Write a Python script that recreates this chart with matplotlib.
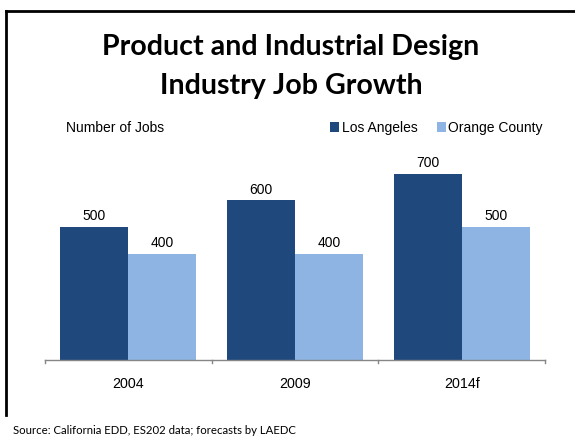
import matplotlib
matplotlib.use("Agg")
import matplotlib.pyplot as plt
from matplotlib.patches import Patch
from matplotlib.lines import Line2D
import numpy as np

years = ["2004", "2009", "2014f"]
los_angeles = [500, 600, 700]
orange_county = [400, 400, 500]
series_names = ["Los Angeles", "Orange County"]
colors = ["#1F497D", "#8DB4E2"]

W, H = 575, 438
fig = plt.figure(figsize=(W / 100, H / 100), dpi=100)

# plot area in pixel coordinates
left, right, top, bottom = 45, 545, 147, 360
ax = fig.add_axes([left / W, 1 - bottom / H, (right - left) / W, (bottom - top) / H])

x = np.arange(len(years))
bw = 0.408
for vals, off, c in [(los_angeles, -bw / 2, colors[0]), (orange_county, bw / 2, colors[1])]:
    bars = ax.bar(x + off, vals, width=bw, color=c, linewidth=0)
    for b, v in zip(bars, vals):
        ax.text(b.get_x() + b.get_width() / 2, v + 14, f"{v}", ha="center", va="bottom",
                fontsize=10, family="Liberation Sans", color="#000000")

ax.set_xlim(-0.5, len(years) - 0.5)
ax.set_ylim(0, 800)
ax.set_yticks([])
for s in ["top", "right", "left"]:
    ax.spines[s].set_visible(False)
ax.spines["bottom"].set_color("#868686")
ax.spines["bottom"].set_linewidth(1.0)
ax.set_xticks(x)
ax.set_xticklabels(years, fontsize=10.3, family="Liberation Sans")
ax.tick_params(axis="x", length=0, pad=12)
# category boundary ticks
for bx in np.arange(-0.5, len(years), 1.0):
    ax.plot([bx, bx], [0, -12], color="#868686", lw=1.0, clip_on=False)

# frame lines
fig.add_artist(Line2D([6 / W, 6 / W], [1 - 11 / H, 1 - 415 / H], color="black", lw=2))
fig.add_artist(Line2D([6 / W, 1], [1 - 11 / H, 1 - 11 / H], color="black", lw=2))

fig.text(291 / W, 1 - 47 / H, "Product and Industrial Design", ha="center", va="center",
         fontsize=20.6, fontweight="bold", family="Lato")
fig.text(291 / W, 1 - 86 / H, "Industry Job Growth", ha="center", va="center",
         fontsize=20.6, fontweight="bold", family="Lato")

fig.text(66 / W, 1 - 128 / H, "Number of Jobs", ha="left", va="center",
         fontsize=10, family="Liberation Sans")

handles = [Patch(facecolor=c, edgecolor="none") for c in colors]
fig.legend(handles, series_names, loc="center right", bbox_to_anchor=(543 / W, 1 - 128 / H),
           ncol=2, frameon=False, prop={"family": "Liberation Sans", "size": 10},
           handlelength=0.7, handleheight=0.7, handletextpad=0.15, columnspacing=1.4,
           borderaxespad=0, borderpad=0)

fig.text(13 / W, 1 - 430 / H, "Source: California EDD, ES202 data; forecasts by LAEDC",
         ha="left", va="center", fontsize=8.2, family="Lato")

fig.savefig("out.png", dpi=100)
